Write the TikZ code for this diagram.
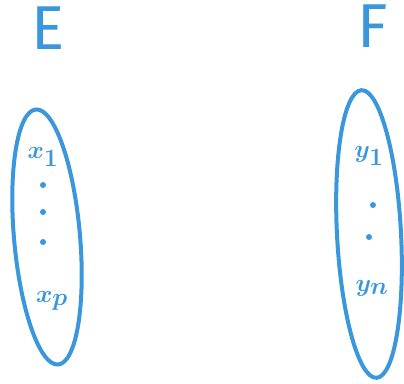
\documentclass[tikz,border=0pt]{standalone}
\usepackage{fontspec}
\setsansfont{Fira Sans}
\usetikzlibrary{shapes.geometric}
\definecolor{pen}{HTML}{3A97DC}
\begin{document}
\begin{tikzpicture}[x=1pt,y=1pt,
  setbox/.style={draw=pen, line width=4pt, ellipse, inner sep=0pt},
  bigletter/.style={text=pen, font=\sffamily\fontsize{62}{64}\selectfont},
  elem/.style={text=pen, font=\boldmath\fontsize{38}{40}\selectfont},
  dotmark/.style={circle, fill=pen, inner sep=0pt, minimum size=6pt}]
\useasboundingbox (0,0) rectangle (404,383);
\node[bigletter] (E) at (48,355) {E};
\node[bigletter] (F) at (373,357) {F};
\node[setbox, minimum width=66pt, minimum height=256pt, rotate=5] (SE) at (47,146) {};
\node[setbox, minimum width=64pt, minimum height=288pt, rotate=3] (SF) at (369,149) {};
\node[elem] (x1) at (43,226) {$x_1$};
\node[dotmark] (d1) at (43,198) {};
\node[dotmark] (d2) at (43,171) {};
\node[dotmark] (d3) at (43,141) {};
\node[elem] (xp) at (52,82) {$x_p$};
\node[elem] (y1) at (369,227) {$y_1$};
\node[dotmark] (d4) at (373,178) {};
\node[dotmark] (d5) at (369,146) {};
\node[elem] (yn) at (372,95) {$y_n$};
\end{tikzpicture}
\end{document}
